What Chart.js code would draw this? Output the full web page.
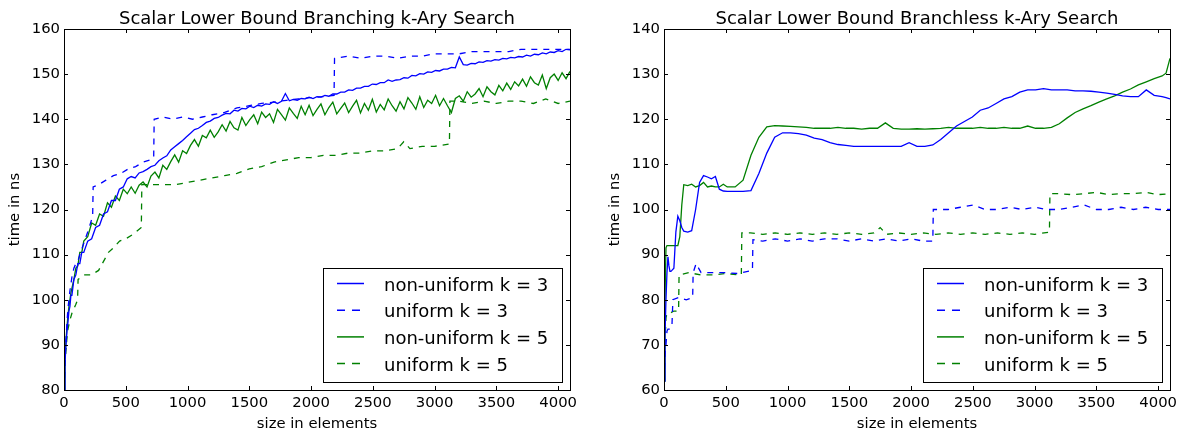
<!DOCTYPE html>
<html>
<head>
<meta charset="utf-8">
<title>k-Ary Search lower bound timings</title>
<script src="https://cdn.jsdelivr.net/npm/chart.js@4.4.1/dist/chart.umd.min.js"></script>
<style>
    body { margin: 0; background: #fff; }
    canvas { position: absolute; top: 0; }
</style>
</head>
<body>
<canvas id="branchingChart" width="600" height="434" style="left:0"></canvas>
<canvas id="branchlessChart" width="583" height="434" style="left:600px"></canvas>
<script>
// sizes of the non-uniform branching runs
const branchingSizes = [
    0, 8, 16, 24, 32, 40, 48, 56, 64, 80, 96, 112, 128,
    144, 160, 192, 224, 256, 288, 320, 352, 384, 416, 448, 480, 512,
    544, 576, 608, 640, 672, 704, 736, 768, 800, 832, 864, 896, 928, 960, 992, 1024,
    1056, 1088, 1120, 1152, 1184, 1216, 1248, 1280, 1312, 1344, 1376, 1408, 1440, 1472, 1504, 1536,
    1568, 1600, 1632, 1664, 1696, 1728, 1760, 1792, 1824, 1856, 1888, 1920, 1952, 1984, 2016, 2048,
    2080, 2112, 2144, 2176, 2208, 2240, 2272, 2304, 2336, 2368, 2400, 2432, 2464, 2496, 2528, 2560,
    2592, 2624, 2656, 2688, 2720, 2752, 2784, 2816, 2848, 2880, 2912, 2944, 2976, 3008, 3040, 3072,
    3104, 3136, 3168, 3200, 3232, 3264, 3296, 3328, 3360, 3392, 3424, 3456, 3488, 3520, 3552, 3584,
    3616, 3648, 3680, 3712, 3744, 3776, 3808, 3840, 3872, 3904, 3936, 3968, 4000, 4032, 4064, 4096
];

const branchingNonUniform3 = [
    80, 86, 90, 93, 95, 97.5, 98.5, 101, 101, 104.5, 105.5, 108, 108,
    110.5, 110.5, 113, 113.5, 116, 116.5, 119, 119.5, 122, 122, 124.5, 125, 126.8,
    127.3, 127.0, 128.1, 128.4, 128.9, 129.5, 129.8, 130.8, 131.4, 131.9, 133.2, 133.9, 134.6, 135.3, 136.1, 136.9,
    137.7, 138.0, 138.6, 139.3, 139.6, 140.2, 140.4, 140.9, 141.3, 141.2, 142.0, 141.8, 142.4, 142.3, 142.9, 142.6,
    143.1, 142.9, 143.4, 143.3, 143.9, 143.5, 144.0, 145.7, 144.1, 144.4, 144.2, 144.6, 144.5, 144.9, 144.6, 145.0,
    144.9, 145.3, 145.1, 145.6, 145.6, 146.0, 146.0, 146.5, 146.4, 146.9, 146.9, 147.3, 147.3, 147.8, 147.7, 148.1,
    148.1, 148.7, 148.4, 148.7, 148.8, 149.2, 149.1, 149.7, 149.6, 150.1, 150.0, 150.5, 150.4, 150.8, 150.7, 151.1,
    151.1, 151.5, 151.4, 153.8, 152.1, 152.0, 152.4, 152.3, 152.7, 152.6, 153.0, 152.9, 153.2, 153.1, 153.5, 153.4,
    153.7, 153.6, 153.9, 153.8, 154.2, 154.0, 154.4, 154.3, 154.7, 154.5, 154.9, 154.8, 155.2, 155.0, 155.5, 155.4
];

const branchingNonUniform5 = [
    80, 87, 91, 94, 96.5, 98.5, 100, 101.5, 102.5, 104.5, 107, 107.5, 110.5,
    110.5, 113, 114, 117, 116.5, 119, 118.5, 121.5, 120.5, 123, 122, 124.5, 123.5,
    125.0, 123.6, 125.4, 126.1, 125.0, 127.4, 128.3, 127.0, 129.8, 128.9, 130.6, 132.1, 130.5, 133.0, 132.4, 134.2,
    135.5, 134.0, 136.4, 135.9, 137.6, 136.0, 137.2, 138.8, 137.4, 139.5, 138.1, 137.6, 140.4, 138.6, 139.9, 141.0,
    139.0, 141.6, 140.4, 141.2, 139.3, 142.2, 141.0, 139.8, 142.5, 141.3, 140.2, 142.9, 141.0, 143.1, 140.8, 142.2,
    143.4, 141.0, 142.6, 143.8, 141.2, 142.4, 143.6, 141.5, 142.9, 144.2, 141.4, 143.5, 142.0, 144.4, 141.6, 143.3,
    142.1, 144.5, 143.0, 141.8, 143.9, 142.3, 144.8, 143.6, 142.2, 145.0, 142.6, 144.2, 143.5, 145.3, 143.0, 144.6,
    143.0, 141.5, 144.6, 145.2, 144.0, 146.1, 144.9, 145.6, 146.8, 145.0, 147.2, 146.1, 145.4, 147.5, 146.3, 148.0,
    146.6, 148.3, 147.4, 148.9, 147.3, 149.4, 148.1, 147.6, 149.8, 146.8, 149.2, 150.0, 148.6, 150.3, 149.0, 150.6
];

// sizes of the non-uniform branchless runs
const branchlessSizes = [
    0, 8, 16, 24, 32, 40, 48, 56, 64, 80,
    96, 112, 128, 144, 160, 192, 224, 256, 288, 320,
    352, 384, 416, 448, 480, 512, 576, 640, 704, 768,
    832, 896, 960, 1024, 1088, 1152, 1216, 1280, 1344, 1408,
    1472, 1536, 1600, 1664, 1728, 1792, 1856, 1920, 1984, 2048,
    2112, 2176, 2240, 2304, 2368, 2432, 2496, 2560, 2624, 2688,
    2752, 2816, 2880, 2944, 3008, 3072, 3136, 3200, 3264, 3328,
    3392, 3456, 3520, 3584, 3648, 3712, 3776, 3840, 3904, 3968,
    4032, 4064, 4096
];

const branchlessNonUniform3 = [
    62, 72, 80, 86, 89.5, 87.5, 86.3, 86.3, 86.5, 87,
    95, 98.5, 97.5, 96, 95.2, 95, 95.3, 100, 106, 107.5,
    107.2, 106.8, 107.3, 104.5, 104.1, 104, 104, 104, 104.2, 108,
    112.5, 116, 117, 117, 116.8, 116.5, 115.8, 115.5, 114.8, 114.4,
    114.2, 114, 114, 114, 114, 114, 114, 114, 114.8, 114,
    114, 114.3, 115.5, 117, 118.5, 119.5, 120.5, 122, 122.5, 123.5,
    124.5, 125, 126, 126.5, 126.5, 126.8, 126.5, 126.5, 126.5, 126.3,
    126.3, 126.2, 126, 125.8, 125.5, 125.2, 125, 125, 126.5, 125.3,
    125, 124.8, 124.5
];

const branchlessNonUniform5 = [
    62, 80, 91.5, 92, 92, 92, 92, 92, 92, 92,
    92, 92, 94, 101, 105.5, 105.3, 105.6, 105, 105.3, 106,
    105, 105.2, 105, 105, 105.6, 105, 105, 106.5, 112, 116,
    118.3, 118.6, 118.5, 118.4, 118.3, 118.2, 118, 118, 118, 118.2,
    118, 118, 117.8, 118, 118, 119.2, 118, 117.8, 117.8, 117.9,
    117.8, 117.9, 118, 118.2, 118, 118, 118, 118.2, 118, 118,
    118.2, 118, 118, 118.5, 118, 118, 118.2, 119, 120.3, 121.5,
    122.3, 123, 123.8, 124.5, 125.2, 126, 126.7, 127.6, 128.3, 129,
    129.6, 130.2, 133.5
];

// uniform runs are step-like, so each keeps its own breakpoints
const branchingUniform3Sizes = [
    0, 8, 16, 24, 32, 48, 64, 80, 96, 112,
    128, 160, 192, 232, 236, 280, 340, 400, 460, 520,
    580, 640, 700, 726, 730, 800, 880, 960, 1040, 1120,
    1200, 1300, 1400, 1500, 1600, 1700, 1800, 1900, 2000, 2100,
    2186, 2190, 2300, 2400, 2500, 2600, 2700, 2800, 2900, 3000,
    3100, 3200, 3300, 3400, 3500, 3600, 3700, 3800, 3900, 4000,
    4096
];
const branchingUniform3 = [
    80, 87, 91, 95, 98, 102, 105, 107, 108, 108.5,
    110, 112.5, 115, 118.5, 125, 125.5, 126.5, 127.5, 128, 129,
    129.5, 130.5, 131, 131.5, 140, 140.5, 140, 140.5, 140, 140.5,
    141, 141.5, 142.5, 143, 143.5, 143.8, 144.2, 144.5, 144.8, 145,
    145.3, 153.5, 154, 153.5, 154, 154, 153.5, 154, 154, 154.5,
    154.5, 154.5, 155, 155, 155, 155, 155.5, 155.5, 155.5, 155.5,
    155.5
];

const branchingUniform5Sizes = [
    0, 8, 16, 24, 32, 48, 64, 80, 96, 110,
    114, 160, 220, 280, 320, 360, 400, 450, 500, 560,
    626, 630, 700, 800, 900, 1000, 1100, 1200, 1300, 1400,
    1500, 1600, 1700, 1800, 1900, 2000, 2100, 2200, 2300, 2400,
    2500, 2600, 2700, 2750, 2800, 2900, 3000, 3120, 3124, 3200,
    3300, 3400, 3500, 3600, 3700, 3800, 3900, 4000, 4096
];
const branchingUniform5 = [
    80, 85, 89, 91.5, 93.5, 95.5, 97, 98, 99, 100,
    104.5, 105.5, 105.5, 106.5, 108.5, 110.5, 111.5, 113, 113.5, 114.5,
    116, 125.5, 125.5, 125.5, 125.5, 126, 126.5, 127, 127.5, 128,
    129, 129.5, 130.5, 131, 131.5, 131.5, 132, 132, 132.5, 132.5,
    133, 133, 133.5, 135, 133.5, 134, 134, 134.5, 144, 144,
    143.5, 144, 143.5, 144, 144, 143.5, 144.5, 143.5, 144
];

const branchlessUniform3Sizes = [
    0, 8, 16, 24, 32, 48, 64, 72, 120, 180,
    232, 236, 260, 300, 400, 500, 600, 716, 720, 800,
    900, 1000, 1100, 1200, 1300, 1400, 1500, 1600, 1700, 1800,
    1900, 2000, 2100, 2176, 2180, 2300, 2400, 2500, 2600, 2700,
    2800, 2900, 3000, 3100, 3200, 3300, 3400, 3500, 3600, 3700,
    3800, 3900, 4000, 4096
];
const branchlessUniform3 = [
    62, 68, 70, 73, 73.5, 73.5, 74, 80, 80.5, 80,
    80.5, 86, 88, 86, 86, 86, 85.8, 86.5, 93.3, 93,
    93.5, 93, 93.5, 93, 93.5, 93.5, 93, 93.5, 93, 93.5,
    93, 93.5, 93, 93, 100, 100, 100.5, 101, 100, 100,
    100.5, 100, 100.5, 100, 100, 100.5, 101, 100, 100, 100.5,
    100, 100.5, 100, 100
];

const branchlessUniform5Sizes = [
    0, 8, 16, 24, 48, 80, 118, 122, 200, 300,
    400, 500, 626, 630, 700, 800, 900, 1000, 1100, 1200,
    1300, 1400, 1500, 1600, 1700, 1750, 1800, 1900, 2000, 2100,
    2200, 2300, 2400, 2500, 2600, 2700, 2800, 2900, 3000, 3120,
    3124, 3200, 3300, 3400, 3500, 3600, 3700, 3800, 3900, 4000,
    4096
];
const branchlessUniform5 = [
    62, 70, 76, 77, 77, 77.5, 77.5, 85.5, 86, 85.5,
    85.5, 85.8, 85.5, 94.8, 94.8, 94.5, 94.8, 94.5, 94.8, 94.5,
    94.8, 94.5, 94.8, 94.5, 94.8, 96, 94.5, 94.8, 94.5, 94.8,
    94.5, 94.8, 94.5, 94.8, 94.5, 94.8, 94.5, 94.8, 94.5, 95,
    103.5, 103.5, 103.3, 103.5, 103.8, 103.3, 103.5, 103.5, 103.8, 103.3,
    103.5
];

const seriesLabels = ["non-uniform k = 3", "uniform k = 3", "non-uniform k = 5", "uniform k = 5"];
const sizeTicks = [0, 500, 1000, 1500, 2000, 2500, 3000, 3500, 4000];
const branchingTimeTicks = [80, 90, 100, 110, 120, 130, 140, 150, 160];
const branchlessTimeTicks = [60, 70, 80, 90, 100, 110, 120, 130, 140];

const BLUE = "#0000ff";
const GREEN = "#008000";
const FONT = "'DejaVu Sans', sans-serif";
const seriesColors = [BLUE, BLUE, GREEN, GREEN];
const seriesDashed = [false, true, false, true];

Chart.defaults.color = "#000";
Chart.defaults.font.family = FONT;

function points(xs, ys) {
    return xs.map((x, i) => ({ x: x, y: ys[i] }));
}

function series(i, xs, ys) {
    return {
        label: seriesLabels[i],
        data: points(xs, ys),
        borderColor: seriesColors[i],
        backgroundColor: seriesColors[i],
        borderWidth: 1.3,
        borderDash: seriesDashed[i] ? [6, 6] : [],
        pointRadius: 0,
        tension: 0,
        fill: false
    };
}

// title centred over the plot area
const plotTitle = {
    id: "plotTitle",
    afterDraw(chart, args, opts) {
        const { ctx, chartArea } = chart;
        ctx.save();
        ctx.font = "18px " + FONT;
        ctx.fillStyle = "#000";
        ctx.textAlign = "center";
        ctx.textBaseline = "alphabetic";
        ctx.fillText(opts.text, (chartArea.left + chartArea.right) / 2, 23.5);
        ctx.restore();
    }
};

// box around the axes with inward tick marks on all four sides
const axesFrame = {
    id: "axesFrame",
    afterDatasetsDraw(chart) {
        const { ctx, chartArea: a, scales } = chart;
        const len = 4;
        ctx.save();
        ctx.strokeStyle = "#000";
        ctx.lineWidth = 1;
        ctx.beginPath();
        scales.x.ticks.forEach((t) => {
            const px = Math.round(scales.x.getPixelForValue(t.value)) + 0.5;
            ctx.moveTo(px, a.bottom);
            ctx.lineTo(px, a.bottom - len);
            ctx.moveTo(px, a.top);
            ctx.lineTo(px, a.top + len);
        });
        scales.y.ticks.forEach((t) => {
            const py = Math.round(scales.y.getPixelForValue(t.value)) + 0.5;
            ctx.moveTo(a.left, py);
            ctx.lineTo(a.left + len, py);
            ctx.moveTo(a.right, py);
            ctx.lineTo(a.right - len, py);
        });
        ctx.stroke();
        ctx.strokeRect(a.left + 0.5, a.top + 0.5, a.right - a.left, a.bottom - a.top);
        ctx.restore();
    }
};

// legend box in the lower right corner of the plot
const boxLegend = {
    id: "boxLegend",
    afterDraw(chart) {
        const { ctx, chartArea: a } = chart;
        const w = 239;
        const h = 114;
        const x0 = Math.round(a.right - 8 - w);
        const y0 = Math.round(a.bottom - 8 - h);
        ctx.save();
        ctx.fillStyle = "#fff";
        ctx.fillRect(x0, y0, w, h);
        ctx.strokeStyle = "#000";
        ctx.lineWidth = 1;
        ctx.strokeRect(x0 + 0.5, y0 + 0.5, w, h);
        ctx.font = "18px " + FONT;
        ctx.textAlign = "left";
        ctx.textBaseline = "alphabetic";
        seriesLabels.forEach((label, i) => {
            const rowY = y0 + 15.5 + i * 26.7;
            ctx.beginPath();
            ctx.lineWidth = 1.5;
            ctx.strokeStyle = seriesColors[i];
            ctx.setLineDash(seriesDashed[i] ? [8, 7] : []);
            ctx.moveTo(x0 + 14, rowY);
            ctx.lineTo(x0 + 41, rowY);
            ctx.stroke();
            ctx.setLineDash([]);
            ctx.fillStyle = "#000";
            ctx.fillText(label, x0 + 61, y0 + 22.7 + i * 26.7);
        });
        ctx.restore();
    }
};

function makeChart(canvasId, title, datasets, yTicks, rightPad) {
    return new Chart(document.getElementById(canvasId), {
        type: "line",
        data: { datasets: datasets },
        options: {
            responsive: false,
            animation: false,
            events: [],
            layout: { padding: { top: 29, right: rightPad, bottom: 0, left: 0 } },
            plugins: {
                legend: { display: false },
                tooltip: { enabled: false },
                plotTitle: { text: title }
            },
            scales: {
                x: {
                    type: "linear",
                    min: 0,
                    max: 4096,
                    grid: { display: false, drawTicks: false },
                    border: { display: false },
                    afterBuildTicks: (scale) => {
                        scale.ticks = sizeTicks.map((v) => ({ value: v }));
                    },
                    afterFit: (scale) => { scale.height = 44; },
                    ticks: {
                        autoSkip: false,
                        maxRotation: 0,
                        padding: 4,
                        font: { size: 14.8 },
                        callback: (v) => String(v)
                    },
                    title: {
                        display: true,
                        text: "size in elements",
                        font: { size: 14.8 },
                        padding: { top: 0, bottom: 0.9 }
                    }
                },
                y: {
                    type: "linear",
                    min: yTicks[0],
                    max: yTicks[yTicks.length - 1],
                    grid: { display: false, drawTicks: false },
                    border: { display: false },
                    afterBuildTicks: (scale) => {
                        scale.ticks = yTicks.map((v) => ({ value: v }));
                    },
                    afterFit: (scale) => { scale.width = 64; },
                    ticks: {
                        autoSkip: false,
                        padding: 4,
                        font: { size: 14.8 },
                        callback: (v) => String(v)
                    },
                    title: {
                        display: true,
                        text: "time in ns",
                        font: { size: 14.8 },
                        padding: { top: 6.7, bottom: 0 }
                    }
                }
            }
        },
        plugins: [plotTitle, axesFrame, boxLegend]
    });
}

makeChart("branchingChart", "Scalar Lower Bound Branching k-Ary Search", [
    series(0, branchingSizes, branchingNonUniform3),
    series(1, branchingUniform3Sizes, branchingUniform3),
    series(2, branchingSizes, branchingNonUniform5),
    series(3, branchingUniform5Sizes, branchingUniform5)
], branchingTimeTicks, 30);

makeChart("branchlessChart", "Scalar Lower Bound Branchless k-Ary Search", [
    series(0, branchlessSizes, branchlessNonUniform3),
    series(1, branchlessUniform3Sizes, branchlessUniform3),
    series(2, branchlessSizes, branchlessNonUniform5),
    series(3, branchlessUniform5Sizes, branchlessUniform5)
], branchlessTimeTicks, 13);
</script>
</body>
</html>
